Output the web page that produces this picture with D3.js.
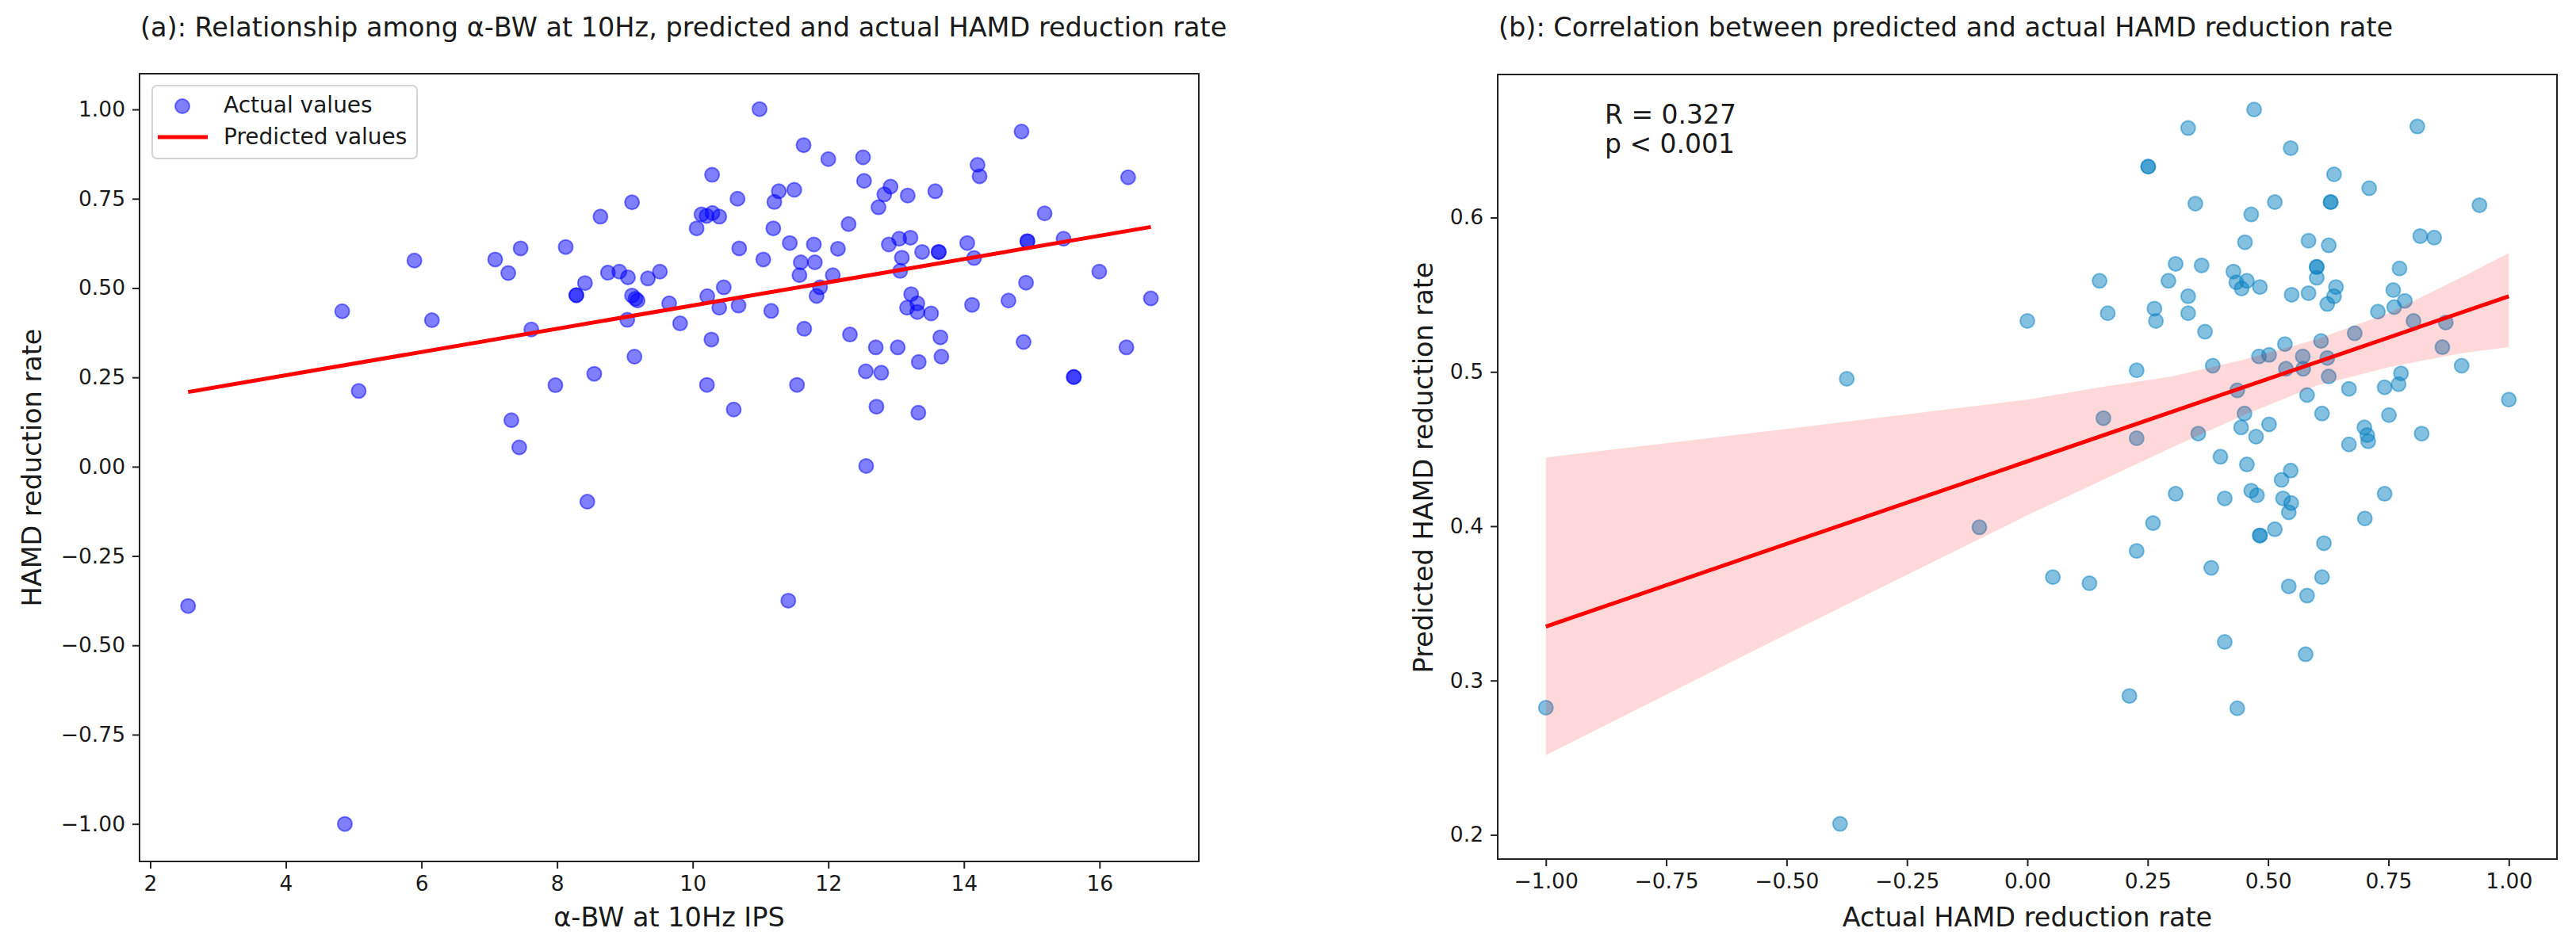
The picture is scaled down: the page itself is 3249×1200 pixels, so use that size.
<!DOCTYPE html>
<html>
<head>
<meta charset="utf-8">
<script src="https://cdn.jsdelivr.net/npm/d3@7"></script>
<style>
  body { margin: 0; background: #fff; }
  text { font-family: "DejaVu Sans", sans-serif; fill: #1a1a1a; }
</style>
</head>
<body>
<svg id="chart" width="3249" height="1200"></svg>
<script>
// ---------- panel (a): alpha-BW vs actual HAMD reduction rate ----------
const alphaBW = [
  9.105, 8.639, 5.896, 7.087, 7.462, 8.127, 7.280, 8.750, 8.918, 9.045,
  9.339, 9.516, 8.411, 8.284, 8.284, 9.105, 9.187, 9.156, 9.653, 4.831,
  6.154, 7.620, 9.035, 9.141, 8.548, 7.975, 5.074, 7.326, 7.442, 8.446,
  2.558, 4.870, 11.41,
  10.986, 11.635, 12.000, 12.512, 14.850, 10.286, 14.201, 14.231, 16.422, 12.527,
  12.918, 12.826, 12.740, 13.171, 13.577, 10.661, 11.270, 11.204, 11.498, 10.129,
  10.205, 10.291, 10.392, 10.058, 11.189, 12.299, 15.190, 10.686, 11.041, 11.432,
  11.787, 12.142, 11.594, 11.802, 11.574, 12.066, 11.878, 11.827, 12.892, 13.045,
  13.212, 13.085, 13.384, 13.628, 13.628, 13.060, 14.049, 14.150, 14.936, 14.936,
  15.469, 15.996, 14.916, 10.458, 10.215, 10.392, 10.676, 11.158, 9.814, 13.222,
  13.313, 13.161, 13.313, 13.516, 14.120, 14.657, 16.757, 10.276, 11.645, 12.319,
  12.700, 13.024, 13.653, 13.668, 13.334, 14.880, 16.396, 12.553, 12.781, 15.621,
  15.621, 10.210, 11.538, 10.605, 12.710, 13.328, 12.558
];
const actualA = [
  0.740, 0.700, 0.577, 0.580, 0.611, 0.615, 0.542, 0.543, 0.546, 0.530,
  0.527, 0.546, 0.514, 0.480, 0.480, 0.479, 0.465, 0.470, 0.457, 0.435,
  0.410, 0.384, 0.411, 0.308, 0.260, 0.228, 0.212, 0.130, 0.054, -0.098,
  -0.390, -1.000, -0.375,
  1.001, 0.900, 0.861, 0.866, 0.938, 0.817, 0.845, 0.813, 0.810, 0.800,
  0.784, 0.762, 0.726, 0.759, 0.771, 0.750, 0.771, 0.741, 0.775, 0.706,
  0.702, 0.710, 0.700, 0.667, 0.667, 0.679, 0.709, 0.611, 0.580, 0.626,
  0.622, 0.610, 0.572, 0.572, 0.536, 0.536, 0.502, 0.478, 0.622, 0.638,
  0.641, 0.585, 0.601, 0.601, 0.601, 0.548, 0.626, 0.584, 0.631, 0.631,
  0.638, 0.546, 0.515, 0.502, 0.477, 0.445, 0.451, 0.436, 0.401, 0.483,
  0.457, 0.445, 0.433, 0.429, 0.453, 0.465, 0.471, 0.356, 0.386, 0.370,
  0.334, 0.334, 0.362, 0.308, 0.293, 0.349, 0.334, 0.267, 0.263, 0.251,
  0.251, 0.229, 0.229, 0.160, 0.168, 0.151, 0.002
];
// fitted line (predicted values) end points
const fitAX = [2.558, 16.757];
const fitAY = [0.209, 0.671];
const xTicksA = [2, 4, 6, 8, 10, 12, 14, 16];
const yTicksA = [-1.0, -0.75, -0.5, -0.25, 0.0, 0.25, 0.5, 0.75, 1.0];

// ---------- panel (b): actual vs predicted HAMD reduction rate ----------
const actualB = [
  -1.000, -0.375, -0.389, -0.0996,
  0.471, 0.334, 0.810, 0.547, 0.251, 0.251, 0.637, 0.710, 0.349, 0.514,
  0.630, 0.630, 0.939, 0.465, 0.452, 0.584, 0.626, 0.816, 0.845, 0.308,
  0.362, 0.601, 0.601, 0.601, 0.773, 0.150, 0.293, 0.428, 0.434, 0.456,
  0.445, 0.483, 0.334, 0.549, 0.584, 0.641, 0.637, 0.623, 0.760, 0.784,
  0.762, 0.728, 0.000, 0.167, 0.264, 0.267, 0.334, 0.369, 0.680, 0.802,
  0.869, 0.862, 0.610, 0.535, 0.481, 0.502, 0.572, 0.573, 0.537, 0.623,
  0.626, 0.385, 0.227, 0.902, 0.776, 0.771, 0.742, 0.668, 0.581, 0.436,
  1.000, 0.158, 0.227, 0.451, 0.612, 0.751, 0.444, 0.502, 0.475, 0.355,
  0.700, 0.706, 0.708, 0.668, 0.819, 0.401, 0.456, 0.547, 0.528,
  0.308, 0.410, 0.465, 0.477, 0.531, 0.548, 0.543, 0.742, 0.261, 0.701,
  0.514, 0.483, 0.483, 0.616, 0.227, 0.053, 0.129, 0.382, 0.612, 0.543,
  0.581, 0.410, 0.578, 0.212, 0.436
];
const predictedB = [
  0.2824, 0.4955, 0.2071, 0.3993,
  0.670, 0.658, 0.659, 0.645, 0.633, 0.633, 0.628, 0.619, 0.609, 0.610,
  0.610, 0.610, 0.608, 0.602, 0.584, 0.585, 0.582, 0.588, 0.587, 0.570,
  0.569, 0.568, 0.568, 0.561, 0.567, 0.559, 0.559, 0.565, 0.558, 0.559,
  0.554, 0.555, 0.549, 0.550, 0.551, 0.555, 0.549, 0.544, 0.553, 0.546,
  0.542, 0.539, 0.533, 0.538, 0.541, 0.533, 0.538, 0.526, 0.525, 0.533,
  0.532, 0.516, 0.520, 0.518, 0.510, 0.511, 0.510, 0.502, 0.502, 0.509,
  0.497, 0.504, 0.501, 0.504, 0.499, 0.492, 0.490, 0.489, 0.485, 0.488,
  0.482, 0.470, 0.457, 0.473, 0.473, 0.472, 0.464, 0.466, 0.458, 0.460,
  0.464, 0.459, 0.455, 0.453, 0.460, 0.445, 0.440, 0.436, 0.430,
  0.421, 0.418, 0.423, 0.420, 0.418, 0.415, 0.409, 0.421, 0.402, 0.405,
  0.398, 0.394, 0.394, 0.389, 0.384, 0.367, 0.363, 0.373, 0.367, 0.361,
  0.355, 0.325, 0.317, 0.290, 0.282
];
const fitBX = [-1.0, 1.0];
const fitBY = [0.335, 0.549];
// confidence band of the regression
const bandX     = [-1.0, -0.5, 0.0, 0.15, 0.3, 0.45, 0.6, 0.75, 0.9, 1.0];
const bandLower = [0.2516, 0.330, 0.407, 0.429, 0.451, 0.472, 0.491, 0.503, 0.512, 0.516];
const bandUpper = [0.4445, 0.463, 0.482, 0.490, 0.497, 0.508, 0.521, 0.538, 0.561, 0.577];
const xTicksB = [-1.0, -0.75, -0.5, -0.25, 0.0, 0.25, 0.5, 0.75, 1.0];
const yTicksB = [0.2, 0.3, 0.4, 0.5, 0.6];

const svg = d3.select("#chart");
svg.append("rect").attr("width", 3249).attr("height", 1200).attr("fill", "#fff");

const TICK_FONT = "26.5px", LABEL_FONT = "33.5px";

// axes helper, draws ticks + frame like matplotlib
function drawAxes(x, y, xTicks, yTicks, xFmt, yFmt) {
  const [x0, x1] = x.range(), [y1, y0] = y.range();
  const gx = svg.append("g").attr("transform", `translate(0,${y1})`)
      .call(d3.axisBottom(x).tickValues(xTicks).tickFormat(xFmt)
        .tickSize(9).tickPadding(9).tickSizeOuter(0));
  const gy = svg.append("g").attr("transform", `translate(${x0},0)`)
      .call(d3.axisLeft(y).tickValues(yTicks).tickFormat(yFmt)
        .tickSize(9).tickPadding(9).tickSizeOuter(0));
  [gx, gy].forEach(g => {
    g.select(".domain").remove();
    g.selectAll(".tick line").attr("stroke", "#222").attr("stroke-width", 2);
    g.selectAll(".tick text").style("font-size", TICK_FONT)
      .style("font-family", "DejaVu Sans").attr("fill", "#1a1a1a");
  });
  return { frame: () => svg.append("rect")
      .attr("x", x0).attr("y", y0).attr("width", x1 - x0).attr("height", y1 - y0)
      .attr("fill", "none").attr("stroke", "#222").attr("stroke-width", 2) };
}

// ===== panel (a) =====
const xA = d3.scaleLinear().domain([1.842, 17.464]).range([176, 1512]);
const yA = d3.scaleLinear().domain([-1.105, 1.1]).range([1087, 93]);
const axA = drawAxes(xA, yA, xTicksA, yTicksA, d3.format("d"), d3.format(".2f"));

const clipA = svg.append("clipPath").attr("id", "clipA").append("rect")
  .attr("x", 176).attr("y", 93).attr("width", 1336).attr("height", 994);
const plotA = svg.append("g").attr("clip-path", "url(#clipA)");

plotA.selectAll("circle")
  .data(d3.range(alphaBW.length))
  .join("circle")
  .attr("cx", i => xA(alphaBW[i]))
  .attr("cy", i => yA(actualA[i]))
  .attr("r", 9)
  .attr("fill", "#0000ff").attr("fill-opacity", 0.5)
  .attr("stroke", "#0000ff").attr("stroke-opacity", 0.5).attr("stroke-width", 2);

plotA.append("path")
  .datum(d3.zip(fitAX, fitAY))
  .attr("fill", "none").attr("stroke", "#ff0000").attr("stroke-width", 5)
  .attr("d", d3.line().x(d => xA(d[0])).y(d => yA(d[1])));
axA.frame();

svg.append("text").attr("x", 177).attr("y", 45.5)
  .style("font-size", LABEL_FONT)
  .text("(a): Relationship among α-BW at 10Hz, predicted and actual HAMD reduction rate");
svg.append("text").attr("x", 844).attr("y", 1169).attr("text-anchor", "middle")
  .style("font-size", LABEL_FONT).text("α-BW at 10Hz IPS");
svg.append("text").attr("transform", "translate(52,590) rotate(-90)")
  .attr("text-anchor", "middle").style("font-size", LABEL_FONT).text("HAMD reduction rate");

// legend
const leg = svg.append("g");
leg.append("rect").attr("x", 192).attr("y", 108).attr("width", 334).attr("height", 92)
  .attr("rx", 6).attr("fill", "#fff").attr("fill-opacity", 0.8)
  .attr("stroke", "#d4d4d4").attr("stroke-width", 2);
leg.append("circle").attr("cx", 230).attr("cy", 134).attr("r", 9)
  .attr("fill", "#0000ff").attr("fill-opacity", 0.5)
  .attr("stroke", "#0000ff").attr("stroke-opacity", 0.5).attr("stroke-width", 2);
leg.append("text").attr("x", 282).attr("y", 142).style("font-size", "28px").text("Actual values");
leg.append("line").attr("x1", 199).attr("x2", 262).attr("y1", 173).attr("y2", 173)
  .attr("stroke", "#ff0000").attr("stroke-width", 5);
leg.append("text").attr("x", 282).attr("y", 182).style("font-size", "28px").text("Predicted values");

// ===== panel (b) =====
const xB = d3.scaleLinear().domain([-1.1, 1.1]).range([1889, 3225]);
const yB = d3.scaleLinear().domain([0.1843, 0.6927]).range([1084, 94]);
const axB = drawAxes(xB, yB, xTicksB, yTicksB, d3.format(".2f"), d3.format(".1f"));

svg.append("clipPath").attr("id", "clipB").append("rect")
  .attr("x", 1889).attr("y", 94).attr("width", 1336).attr("height", 990);
const plotB = svg.append("g").attr("clip-path", "url(#clipB)");

plotB.selectAll("circle")
  .data(d3.range(actualB.length))
  .join("circle")
  .attr("cx", i => xB(actualB[i]))
  .attr("cy", i => yB(predictedB[i]))
  .attr("r", 9)
  .attr("fill", "#0a82c2").attr("fill-opacity", 0.5)
  .attr("stroke", "#0a82c2").attr("stroke-opacity", 0.5).attr("stroke-width", 2);

plotB.append("path")
  .datum(d3.range(bandX.length))
  .attr("fill", "#ff0000").attr("fill-opacity", 0.15)
  .attr("d", d3.area().x(i => xB(bandX[i])).y0(i => yB(bandLower[i])).y1(i => yB(bandUpper[i])));

plotB.append("path")
  .datum(d3.zip(fitBX, fitBY))
  .attr("fill", "none").attr("stroke", "#ff0000").attr("stroke-width", 5)
  .attr("d", d3.line().x(d => xB(d[0])).y(d => yB(d[1])));
axB.frame();

svg.append("text").attr("x", 1890).attr("y", 45.5)
  .style("font-size", LABEL_FONT)
  .text("(b): Correlation between predicted and actual HAMD reduction rate");
svg.append("text").attr("x", 2557).attr("y", 1169).attr("text-anchor", "middle")
  .style("font-size", LABEL_FONT).text("Actual HAMD reduction rate");
svg.append("text").attr("transform", "translate(1807,590) rotate(-90)")
  .attr("text-anchor", "middle").style("font-size", LABEL_FONT).text("Predicted HAMD reduction rate");

svg.append("text").attr("x", 2024).attr("y", 155.5).style("font-size", "33px").text("R = 0.327");
svg.append("text").attr("x", 2024).attr("y", 193).style("font-size", "33px").text("p < 0.001");
</script>
</body>
</html>
